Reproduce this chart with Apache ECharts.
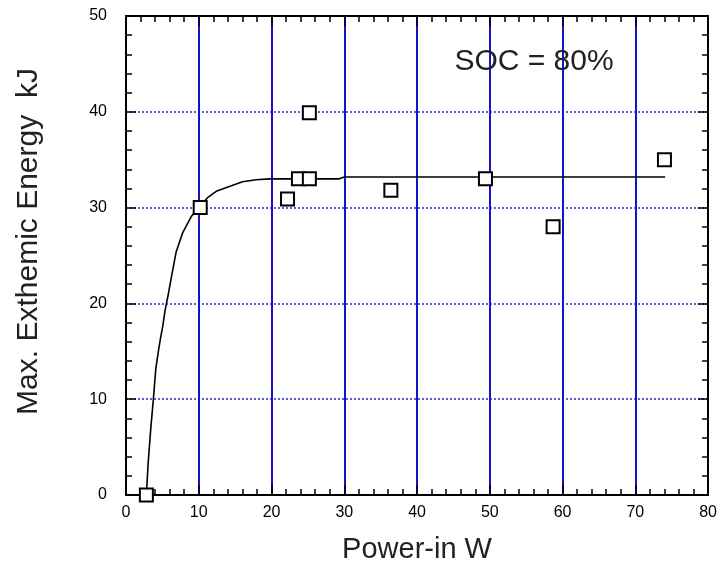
<!DOCTYPE html>
<html>
<head>
<meta charset="utf-8">
<title>Max. Exthemic Energy vs Power-in</title>
<script src="https://cdn.jsdelivr.net/npm/echarts@6/dist/echarts.min.js"></script>
<style>
  html, body { margin: 0; padding: 0; background: #fff; }
  #chart { width: 720px; height: 569px; }
</style>
</head>
<body>
<div id="chart"></div>
<script>
// measured points (Power-in W, energy kJ)
const powerIn = [2.8, 10.2, 22.2, 23.7, 25.2, 25.2, 36.4, 49.4, 58.7, 74.0];
const energy = [0, 30, 30.9, 33, 33, 39.9, 31.8, 33, 28, 35];

// fitted curve
const curveX = [2.8, 3.05, 3.4, 3.75, 4.1, 4.45, 4.75, 5.05, 5.35, 5.8, 6.25, 6.9, 7.8, 9.0, 10.1, 11.3, 12.4, 14.2, 16.0, 17.9, 19.7, 29.3, 30, 74.1];
const curveY = [0, 3.4, 6.9, 9.9, 13.2, 15.0, 16.4, 17.6, 19.2, 20.9, 22.8, 25.4, 27.4, 29.1, 30.1, 31.1, 31.7, 32.2, 32.7, 32.9, 33.0, 33.0, 33.2, 33.2];

const xTicks = [0, 80, 10];   // min, max, step
const yTicks = [0, 50, 10];

const font = 'Liberation Sans, Arial, Helvetica, sans-serif';

const chart = echarts.init(document.getElementById('chart'));

function frameAxis(pos, range, extra) {
  return Object.assign({
    type: 'value',
    position: pos,
    min: range[0],
    max: range[1],
    interval: range[2],
    axisLine: { show: true, onZero: false, lineStyle: { color: '#000', width: 2 } },
    axisTick: { show: true, inside: true, length: 10, lineStyle: { color: '#000', width: 1.5 } },
    minorTick: { show: true, splitNumber: 5, length: 6, lineStyle: { color: '#000', width: 1.5 } },
    axisLabel: { show: false },
    splitLine: { show: false }
  }, extra || {});
}

const option = {
  animation: false,
  backgroundColor: '#fff',
  grid: { left: 126, right: 9, top: 16, bottom: 73, containLabel: false },
  xAxis: [
    frameAxis('bottom', xTicks, {
      name: 'Power-in W',
      nameLocation: 'middle',
      nameGap: 40,
      nameTextStyle: { fontSize: 29, color: '#222', fontFamily: font },
      axisLabel: { show: true, fontSize: 16, color: '#000', margin: 10, fontFamily: font },
      splitLine: { show: true, lineStyle: { color: '#1414c4', width: 2, type: 'solid' } }
    }),
    frameAxis('top', xTicks)
  ],
  yAxis: [
    frameAxis('left', yTicks, {
      name: 'Max. Exthemic Energy  kJ',
      nameLocation: 'middle',
      nameGap: 82,
      nameRotate: 90,
      nameTextStyle: { fontSize: 30, color: '#222', fontFamily: font, padding: [0, 0, 0, 28] },
      axisLabel: { show: true, fontSize: 16, color: '#000', margin: 19, fontFamily: font },
      splitLine: { show: true, lineStyle: { color: '#2a2ac8', width: 1.5, type: [2, 2] } }
    }),
    frameAxis('right', yTicks)
  ],
  graphic: [
    {
      type: 'text',
      x: 534,
      y: 62,
      style: {
        text: 'SOC = 80%',
        fontSize: 30,
        fontFamily: font,
        fill: '#222',
        textAlign: 'center',
        textVerticalAlign: 'middle'
      },
      z: 10
    }
  ],
  series: [
    {
      type: 'line',
      data: curveX.map((x, i) => [x, curveY[i]]),
      showSymbol: false,
      lineStyle: { color: '#000', width: 1.6 },
      z: 3,
      clip: false
    },
    {
      type: 'scatter',
      data: powerIn.map((x, i) => [x, energy[i]]),
      symbol: 'rect',
      symbolSize: 13,
      itemStyle: { color: '#fff', borderColor: '#000', borderWidth: 2, opacity: 1 },
      z: 4,
      clip: false
    }
  ]
};

chart.setOption(option);
</script>
</body>
</html>
